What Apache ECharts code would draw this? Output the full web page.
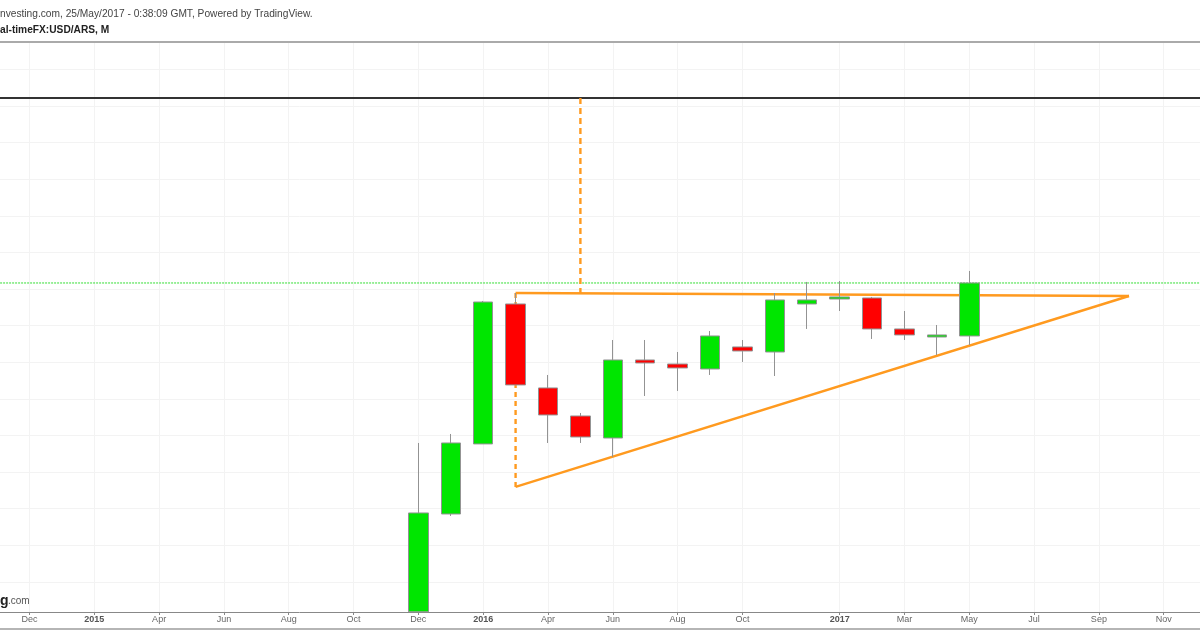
<!DOCTYPE html>
<html>
<head>
<meta charset="utf-8">
<title>USD/ARS, M</title>
<style>
html, body { margin: 0; padding: 0; background: #fff; }
#main { width: 1200px; height: 630px; }
</style>
<script src="https://cdn.jsdelivr.net/npm/echarts@6/dist/echarts.min.js"></script>
</head>
<body>
<div id="main"></div>
<script>
// x axis slots, only some of them carry a label (same spacing as the source)
var tickLabels = ['', 'Dec', '', '2015', '', 'Apr', '', 'Jun', '', 'Aug', '', 'Oct', '', 'Dec', '', '2016', '', 'Apr', '', 'Jun', '', 'Aug', '', 'Oct', '', '', '2017', '', 'Mar', '', 'May', '', 'Jul', '', 'Sep', '', 'Nov', '', ''];
var yTicks = [12, 12.5, 13, 13.5, 14, 14.5, 15, 15.5, 16, 16.5, 17, 17.5, 18, 18.5, 19];

// monthly candles, first one sits on slot 13 and runs off the bottom of the chart
var firstSlot = 13;
var opens  = [11.59, 12.926, 13.883, 15.795, 14.648, 14.265, 13.964, 15.030, 14.975, 14.907, 15.208, 15.139, 15.795, 15.863, 15.877, 15.454, 15.344, 15.358];
var closes = [12.940, 13.896, 15.822, 14.689, 14.279, 13.978, 15.030, 14.989, 14.921, 15.358, 15.153, 15.850, 15.850, 15.891, 15.454, 15.372, 15.372, 16.082];
var lows   = [11.59, 12.899, 13.883, 14.689, 13.896, 13.896, 13.705, 14.538, 14.607, 14.825, 15.003, 14.811, 15.454, 15.699, 15.317, 15.303, 15.098, 15.235];
var highs  = [13.896, 14.019, 15.836, 15.945, 14.825, 14.306, 15.303, 15.303, 15.139, 15.426, 15.303, 15.945, 16.096, 16.109, 15.891, 15.699, 15.508, 16.246];

// drawn lines: [slot, price]
var topTrend = [[16, 15.945], [34.93, 15.904]];
var lowTrend = [[16, 13.295], [34.93, 15.904]];
var triangleSide = [[16, 15.945], [16, 13.295]];
var targetDrop = [[18, 18.609], [18, 15.945]];
var targetLine = [[0, 18.609], [38, 18.609]];
var lastPriceLine = [[0, 16.082], [38, 16.082]];

var candleData = tickLabels.map(function (t, i) {
    var k = i - firstSlot;
    if (k < 0 || k >= opens.length) return '-';
    return [opens[k], closes[k], lows[k], highs[k]];
});

function hasLabel(index) {
    return tickLabels[index] !== '';
}

function drawnLine(data, color, width, type, z) {
    return {
        type: 'line',
        xAxisIndex: 1,
        data: data,
        symbol: 'none',
        silent: true,
        z: z,
        lineStyle: { color: color, width: width, type: type }
    };
}

var myChart = echarts.init(document.getElementById('main'), null, { renderer: 'canvas' });

var option = {
    animation: false,
    backgroundColor: '#ffffff',
    textStyle: { fontFamily: 'Liberation Sans' },
    grid: { left: -2.9, right: -28.5, top: 42, bottom: 18, outerBoundsMode: 'none' },
    xAxis: [
        {
            type: 'category',
            data: tickLabels,
            boundaryGap: false,
            axisLine: { show: true, lineStyle: { color: '#888888', width: 1 } },
            axisTick: { show: true, interval: hasLabel, length: 3, lineStyle: { color: '#888888' } },
            splitLine: { show: true, interval: hasLabel, lineStyle: { color: '#f3f3f3', width: 1 } },
            axisLabel: {
                show: true,
                interval: hasLabel,
                margin: 3,
                fontSize: 9,
                color: '#666666',
                fontFamily: 'Liberation Sans',
                formatter: function (v) {
                    return /^\d+$/.test(v) ? '{year|' + v + '}' : v;
                },
                rich: { year: { fontSize: 9, fontWeight: 'bold', color: '#555555', fontFamily: 'Liberation Sans' } }
            }
        },
        {
            // same slots as a number, for the hand drawn lines
            type: 'value',
            position: 'top',
            min: 0,
            max: 38,
            axisLine: { show: true, onZero: false, lineStyle: { color: '#aaaaaa', width: 2 } },
            axisTick: { show: false },
            axisLabel: { show: false },
            splitLine: { show: false }
        }
    ],
    yAxis: {
        type: 'value',
        min: 11.587,
        max: 19.374,
        axisLine: { show: false },
        axisLabel: { show: false },
        axisTick: { show: false, customValues: yTicks },
        splitLine: { show: true, lineStyle: { color: '#f3f3f3', width: 1 } }
    },
    series: [
        drawnLine(lastPriceLine, '#33dd33', 1, [2, 1], 2),
        drawnLine(targetLine, '#333333', 2, 'solid', 3),
        drawnLine(topTrend, '#ff9a1f', 2.4, 'solid', 4),
        drawnLine(lowTrend, '#ff9a1f', 2.4, 'solid', 4),
        drawnLine(triangleSide, '#ff9a1f', 2.4, [5, 4], 4),
        drawnLine(targetDrop, '#ff9a1f', 2.4, [6, 4], 4),
        {
            type: 'candlestick',
            data: candleData,
            barWidth: 20,
            z: 5,
            itemStyle: {
                color: '#00e600',
                color0: '#ff0000',
                borderColor: '#939393',
                borderColor0: '#939393',
                borderWidth: 1
            }
        }
    ],
    graphic: [
        { type: 'text', left: 0, top: 9, style: { text: 'nvesting.com, 25/May/2017 - 0:38:09 GMT, Powered by TradingView.', font: '10.2px "Liberation Sans"', fill: '#444444' } },
        { type: 'text', left: 0, top: 25, style: { text: 'al-timeFX:USD/ARS, M', font: 'bold 10.2px "Liberation Sans"', fill: '#222222' } },
        { type: 'text', left: 0, top: 594, style: { text: 'g', font: 'bold 14px "Liberation Sans"', fill: '#222222' } },
        { type: 'text', left: 8, top: 596, style: { text: '.com', font: '10px "Liberation Sans"', fill: '#555555' } },
        { type: 'rect', left: 0, top: 628, shape: { width: 1200, height: 2 }, style: { fill: '#b5b5b5' } }
    ]
};

myChart.setOption(option);
</script>
</body>
</html>
